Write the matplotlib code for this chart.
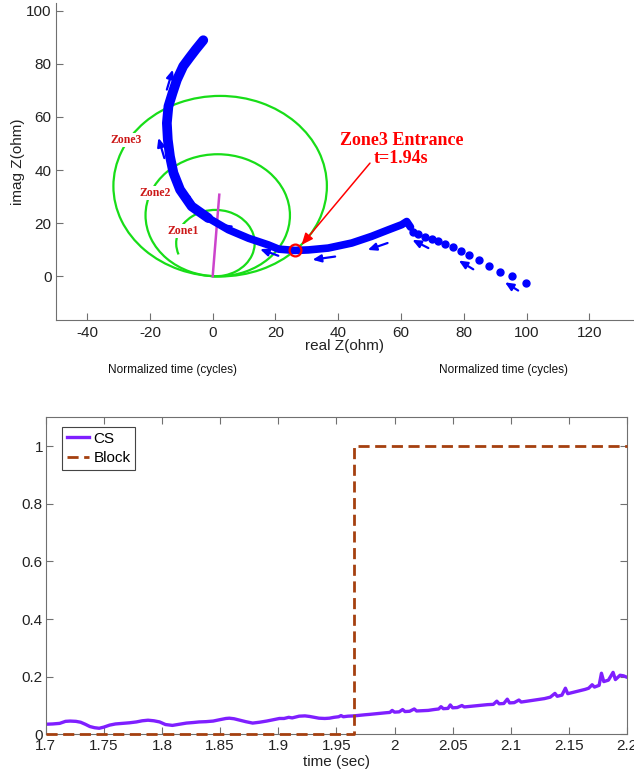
import matplotlib
matplotlib.use("Agg")
import matplotlib.pyplot as plt
from matplotlib.patches import Arc
from matplotlib.ticker import FuncFormatter
import numpy as np

plt.rcParams['font.family'] = ['Liberation Sans', 'DejaVu Sans']

# ----- podaci: impedansna trajektorija (gornji graf) -----
# retke tacke (pocetak putanje, desno)
sparse_x = [99.8, 95.4, 91.5, 88.0, 84.7, 81.8, 79.1, 76.4, 73.9, 71.9, 69.7, 67.6, 65.5, 63.9]
sparse_y = [-2.6, -0.1, 1.7, 4.0, 6.0, 7.9, 9.5, 10.9, 12.2, 13.4, 14.2, 14.9, 16.0, 16.8]

# gusti deo putanje (debela linija), donji deo
dense_x = [63.0, 61.8, 60.2, 56.0, 50.6, 44.3, 36.8, 30.5, 26.2, 21.0, 17.7, 11.4, 5.0, -1.4]
dense_y = [18.5, 20.6, 19.4, 17.5, 15.0, 12.5, 10.6, 9.9, 9.7, 10.2, 11.8, 14.3, 17.5, 21.9]

# gusti deo putanje, gornji deo (jos deblji)
upper_x = [-1.4, -6.7, -10.4, -12.5, -13.6, -14.3, -14.6, -14.1, -12.8, -11.4, -9.4, -7.4, -5.4, -3.0]
upper_y = [21.9, 26.3, 32.6, 38.9, 45.1, 51.4, 57.7, 64.0, 69.0, 74.0, 79.1, 82.3, 85.4, 88.9]

# strelice smera (rep -> glava)
arrow_tail_x = [97.3, 83.0, 68.7, 55.7, 39.0, 20.9, 7.6, -6.1, -15.4, -14.6]
arrow_tail_y = [-5.4, 2.6, 10.6, 12.5, 7.4, 7.7, 16.2, 27.3, 44.5, 70.3]
arrow_head_x = [93.1, 78.4, 63.6, 49.4, 31.8, 15.1, 2.9, -10.4, -17.3, -12.7]
arrow_head_y = [-2.3, 5.9, 13.7, 9.9, 6.2, 10.2, 19.7, 31.3, 52.1, 77.8]

# mho zone (precnik) i karakteristicni ugao
zone_names = ["Zone1", "Zone2", "Zone3"]
zone_reach = [25.0, 46.0, 68.0]
char_angle = 86.0
zone_label_x = [-9.3, -18.2, -27.7]
zone_label_y = [17.1, 31.3, 51.3]

line_x = [0.0, 2.1]
line_y = [0.0, 30.7]

entrance_x = 26.2
entrance_y = 9.7

# ----- podaci: donji graf -----
cs_t = [1.700, 1.706, 1.712, 1.717, 1.721, 1.726, 1.730, 1.734, 1.738, 1.742, 1.746, 1.750,
        1.755, 1.760, 1.766, 1.772, 1.778, 1.783, 1.788, 1.793, 1.798, 1.803, 1.809, 1.815,
        1.821, 1.827, 1.832, 1.838, 1.844, 1.850, 1.855, 1.858, 1.862, 1.867, 1.872, 1.878,
        1.884, 1.890, 1.895, 1.901, 1.905, 1.909, 1.912, 1.918, 1.923, 1.927, 1.931, 1.935,
        1.940, 1.944, 1.948, 1.952, 1.954, 1.956, 1.960, 1.965, 1.970, 1.975, 1.978, 1.983,
        1.988, 1.993, 1.996, 1.998, 2.000, 2.004, 2.007, 2.009, 2.013, 2.017, 2.019, 2.024,
        2.029, 2.034, 2.038, 2.040, 2.042, 2.046, 2.048, 2.050, 2.054, 2.058, 2.060, 2.065,
        2.070, 2.075, 2.080, 2.085, 2.088, 2.090, 2.094, 2.097, 2.099, 2.103, 2.107, 2.109,
        2.114, 2.119, 2.124, 2.129, 2.134, 2.138, 2.140, 2.144, 2.147, 2.149, 2.154, 2.159,
        2.164, 2.167, 2.170, 2.172, 2.176, 2.178, 2.180, 2.184, 2.188, 2.190, 2.194, 2.197,
        2.200]
cs_v = [0.035, 0.036, 0.038, 0.045, 0.046, 0.045, 0.042, 0.035, 0.027, 0.023, 0.021, 0.025,
        0.032, 0.036, 0.038, 0.040, 0.043, 0.047, 0.049, 0.047, 0.043, 0.034, 0.031, 0.035,
        0.039, 0.041, 0.043, 0.044, 0.046, 0.051, 0.055, 0.056, 0.054, 0.049, 0.044, 0.039,
        0.042, 0.046, 0.050, 0.055, 0.055, 0.059, 0.057, 0.063, 0.064, 0.062, 0.059, 0.056,
        0.055, 0.056, 0.059, 0.061, 0.065, 0.061, 0.063, 0.064, 0.066, 0.068, 0.069, 0.071,
        0.073, 0.075, 0.076, 0.083, 0.077, 0.078, 0.086, 0.079, 0.080, 0.088, 0.081, 0.082,
        0.083, 0.086, 0.088, 0.096, 0.089, 0.090, 0.102, 0.092, 0.093, 0.100, 0.095, 0.097,
        0.099, 0.101, 0.103, 0.104, 0.115, 0.106, 0.107, 0.122, 0.109, 0.110, 0.119, 0.112,
        0.115, 0.118, 0.121, 0.124, 0.129, 0.142, 0.132, 0.136, 0.160, 0.141, 0.146, 0.151,
        0.156, 0.160, 0.172, 0.164, 0.170, 0.212, 0.183, 0.188, 0.215, 0.190, 0.205, 0.203,
        0.198]

block_t = [1.700, 1.965, 2.200]
block_v = [0.0, 1.0, 1.0]

# ----- stil -----
BLUE = "#0000FF"
GREEN = "#18DD18"
SPINE = "#707070"
fmt = FuncFormatter(lambda v, p: "%g" % v)

fig = plt.figure(figsize=(6.34, 7.72), dpi=100)

# ===== gornji graf: Z ravan =====
ax1 = fig.add_axes([0.0879, 0.5855, 0.9121, 0.4102])
for i, d in enumerate(zone_reach):
    r = d / 2.0
    cx = r * np.cos(np.radians(char_angle))
    cy = r * np.sin(np.radians(char_angle))
    if i == 0:
        arc = Arc((cx, cy), d, d, theta1=-95, theta2=200, color=GREEN, lw=1.6)
    else:
        arc = Arc((cx, cy), d, d, color=GREEN, lw=1.6)
    ax1.add_patch(arc)

ax1.plot(line_x, line_y, color="#CC44CC", lw=1.8)

ax1.plot(dense_x, dense_y, color=BLUE, lw=5.5, solid_capstyle="round", solid_joinstyle="round")
ax1.plot(upper_x, upper_y, color=BLUE, lw=7, solid_capstyle="round", solid_joinstyle="round")
ax1.plot(sparse_x, sparse_y, "o", color=BLUE, ms=5, mec=BLUE)

for tx, ty, hx, hy in zip(arrow_tail_x, arrow_tail_y, arrow_head_x, arrow_head_y):
    ax1.annotate("", xy=(hx, hy), xytext=(tx, ty),
                 arrowprops=dict(arrowstyle="-|>,head_length=0.5,head_width=0.22",
                                 color=BLUE, lw=1.6, shrinkA=0, shrinkB=0, mutation_scale=10))

for name, lx, ly in zip(zone_names, zone_label_x, zone_label_y):
    ax1.text(lx, ly, name, color="#CC1818", fontsize=8.5, fontweight="bold",
             family="Liberation Serif", ha="center", va="center",
             bbox=dict(facecolor="white", edgecolor="none", pad=0.5))

ax1.plot([entrance_x], [entrance_y], "o", ms=8.5, mfc="none", mec="red", mew=1.6)
ax1.annotate("", xy=(28.3, 11.8), xytext=(50.1, 42.6),
             arrowprops=dict(arrowstyle="-|>,head_length=0.7,head_width=0.3",
                             color="red", lw=1.1, shrinkA=0, shrinkB=0, mutation_scale=10))
ax1.text(60.1, 47.6, "Zone3 Entrance\nt=1.94s", color="red", fontsize=13, fontweight="bold",
         family="Liberation Serif", ha="center", va="center", linespacing=1.1)

ax1.set_xlim(-50, 134.2)
ax1.set_ylim(-16.5, 102.8)
ax1.set_xticks([-40, -20, 0, 20, 40, 60, 80, 100, 120])
ax1.set_yticks([0, 20, 40, 60, 80, 100])
ax1.xaxis.set_major_formatter(fmt)
ax1.yaxis.set_major_formatter(fmt)
ax1.spines["top"].set_visible(False)
ax1.spines["right"].set_visible(False)
for s in ["left", "bottom"]:
    ax1.spines[s].set_color(SPINE)
ax1.tick_params(direction="in", length=5, color=SPINE, labelsize=11, labelcolor="#222222")
ax1.tick_params(axis="x", pad=4)
ax1.tick_params(axis="y", pad=3)
ax1.set_xlabel("real Z(ohm)", fontsize=11, color="#222222")
ax1.xaxis.set_label_coords(0.5, -0.082)
ax1.xaxis.label.set_va("center")
ax1.set_ylabel("imag Z(ohm)", fontsize=11, color="#222222")
ax1.yaxis.set_label_coords(-0.066, 0.5)
ax1.yaxis.label.set_va("center")

fig.text(172.5 / 634, 1 - 370 / 772, "Normalized time (cycles)", fontsize=8.5,
         ha="center", va="center", color="#111111")
fig.text(503.3 / 634, 1 - 370 / 772, "Normalized time (cycles)", fontsize=8.5,
         ha="center", va="center", color="#111111")

# ===== donji graf: CS i Block =====
ax2 = fig.add_axes([0.0721, 0.0488, 0.9169, 0.4106])
ax2.plot(cs_t, cs_v, color="#7F1FFF", lw=2.4, label="CS")
ax2.plot(block_t, block_v, color="#A5400F", lw=2, ls=(0, (4, 2)), drawstyle="steps-post",
         label="Block", clip_on=False, zorder=3)
ax2.set_xlim(1.7, 2.2)
ax2.set_ylim(0, 1.1)
ax2.set_xticks([1.7, 1.75, 1.8, 1.85, 1.9, 1.95, 2.0, 2.05, 2.1, 2.15, 2.2])
ax2.set_yticks([0, 0.2, 0.4, 0.6, 0.8, 1.0])
ax2.xaxis.set_major_formatter(fmt)
ax2.yaxis.set_major_formatter(fmt)
for s in ax2.spines.values():
    s.set_color(SPINE)
ax2.tick_params(direction="in", length=5, color=SPINE, labelsize=11, labelcolor="#222222",
                top=True, right=True)
ax2.tick_params(axis="y", pad=2)
ax2.tick_params(axis="x", pad=3.5)
ax2.set_xlabel("time (sec)", fontsize=11, color="#222222")
ax2.xaxis.set_label_coords(0.5, -0.087)
ax2.xaxis.label.set_va("center")
leg = ax2.legend(loc="upper left", bbox_to_anchor=(0.028, 0.969), borderaxespad=0,
                 fontsize=11, fancybox=False, edgecolor="#444444", framealpha=1,
                 borderpad=0.3, labelspacing=0.35, handlelength=1.5, handletextpad=0.25)
leg.get_frame().set_linewidth(0.8)

fig.savefig("out.png", dpi=100)
